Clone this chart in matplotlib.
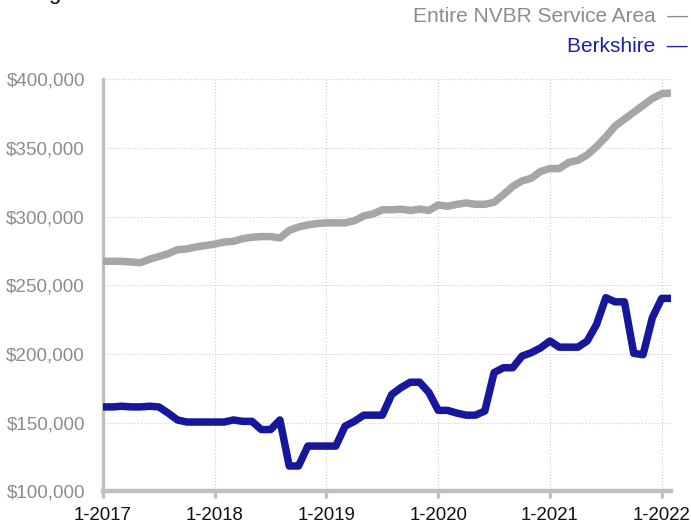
import matplotlib
matplotlib.use("Agg")
import matplotlib.pyplot as plt
import numpy as np
from matplotlib.ticker import FuncFormatter

plt.rcParams['font.family'] = ['Liberation Sans', 'DejaVu Sans']

# Monthly values from 1-2017 through 2-2022 (thousands of dollars)
months = list(range(62))
year_ticks = [0, 12, 24, 36, 48, 60]
year_labels = ["1-2017", "1-2018", "1-2019", "1-2020", "1-2021", "1-2022"]

nvbr = [267.5, 267.5, 267.5, 267, 266.5, 269, 271, 273, 276, 276.5,
        278, 279, 280, 281.5, 282, 284, 285, 285.5, 285.5, 284.5,
        290, 292.5, 294, 295, 295.5, 295.5, 295.5, 297, 300.5, 302,
        305, 305, 305.5, 304.5, 305.5, 304.5, 308.5, 307.5, 309, 310,
        309, 309, 310.5, 316, 322, 326, 328, 333, 335, 335,
        339.5, 341, 345, 351, 358, 366, 371, 376, 381, 386,
        389.5, 390]

berkshire = [161.5, 161.5, 162, 161.5, 161.5, 162, 161.5, 157, 152, 150.5,
             150.5, 150.5, 150.5, 150.5, 152, 151, 151, 145, 145, 152,
             118.5, 118.5, 133, 133, 133, 133, 147.5, 151, 155.5, 155.5,
             155.5, 170.5, 175.5, 179.5, 179.5, 172, 159, 159, 157, 155.5,
             155.5, 158.5, 186.5, 190, 190, 198.5, 201, 204.5, 209.5, 205,
             205, 205, 209.5, 221.5, 241, 238, 238, 200.5, 199.5, 226.5,
             240.5, 240.5]

y_ticks = [100, 150, 200, 250, 300, 350, 400]

series_names = ["Entire NVBR Service Area", "Berkshire"]
gray = "#a6a6a6"
blue = "#17179b"

fig = plt.figure(figsize=(6.91, 5.23), dpi=100)
ax = fig.add_axes([103/691, 1-491.4/523, (671-103)/691, (491.4-79.3)/523])

ax.plot(months, [v*1000 for v in nvbr], color=gray, lw=5.4,
        solid_joinstyle='round', solid_capstyle='butt', zorder=3)
ax.plot(months, [v*1000 for v in berkshire], color=blue, lw=5.4,
        solid_joinstyle='round', solid_capstyle='butt', zorder=4)

ax.set_xlim(0, 61)
ax.set_ylim(100000, 400000)
ax.set_yticks([v*1000 for v in y_ticks])
ax.yaxis.set_major_formatter(FuncFormatter(lambda v, p: "${:,.0f}".format(v)))
ax.set_xticks(year_ticks)
ax.set_xticklabels(year_labels)

ax.grid(True, color="#cccccc", linestyle=(0, (1, 1.8)), lw=0.8, zorder=0)
ax.axvline(61, color="#cccccc", linestyle=(0, (1, 1.8)), lw=0.8, zorder=0)

for s in ["top", "right"]:
    ax.spines[s].set_visible(False)
ax.spines["left"].set_color("#bfbfbf")
ax.spines["left"].set_linewidth(2.4)
ax.spines["bottom"].set_color("#bfbfbf")
ax.spines["bottom"].set_linewidth(3.2)

ax.tick_params(axis='y', length=0, pad=13, labelsize=13.6, labelcolor="#8c8c8c")
ax.tick_params(axis='x', length=5, width=2.4, color="#bfbfbf", pad=6,
               labelsize=13.4, labelcolor="#111111")

fig.text(688/691, 1-17/523, series_names[0] + "  \u2014", ha='right', va='center',
         fontsize=15, color="#8c8c8c")
fig.text(688/691, 1-47/523, series_names[1] + "  \u2014", ha='right', va='center',
         fontsize=15, color="#1f1fa6")

# cut-off title fragment at the very top-left
fig.text(48/691, 1+1/523, "g", ha='left', va='baseline', fontsize=16, color="#111111")

fig.savefig("out.png", dpi=100)
